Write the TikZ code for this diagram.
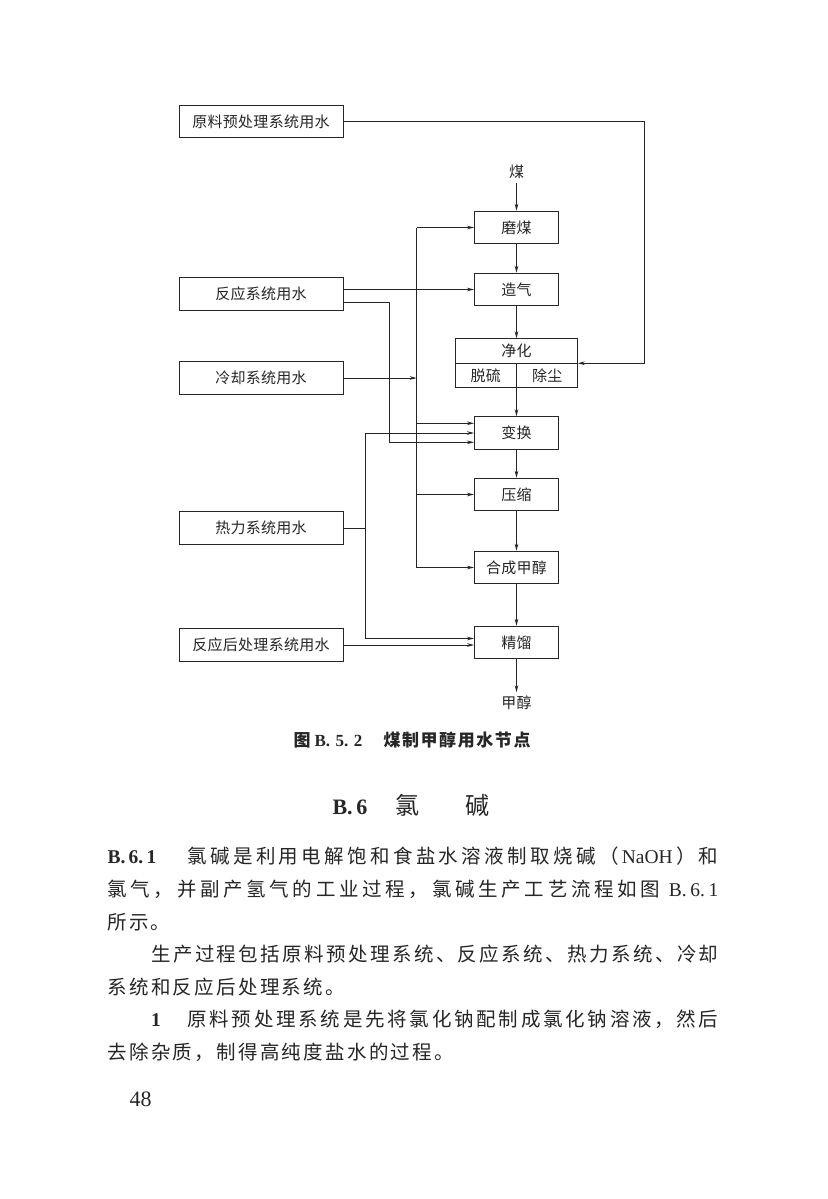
\documentclass[tikz,border=0pt]{standalone}
\usepackage{fontspec}
\setmainfont{Liberation Serif}
\newfontfamily\cjk{Noto Sans CJK SC}
\newfontfamily\cjklabel[LetterSpace=2]{Noto Sans CJK SC}
\newfontfamily\lat{Liberation Serif}
\usetikzlibrary{
  arrows.meta,
  calc,
  positioning
}
% Spread the tokens of a line evenly over a given width.
\let\SpreadEnd\relax
\def\SpreadStop{\SpreadEnd}
\def\SpreadTok#1{\def\SpreadArg{#1}%
  \ifx\SpreadArg\SpreadStop\unskip\else\hbox{#1}\hfil\expandafter\SpreadTok\fi}
\newcommand*{\SpreadLine}[2]{\hbox to #1{\SpreadTok#2\SpreadEnd}}
\tikzset{
  % For the water-use boxes on the left.
  water/.style={
    draw,
    minimum width=164pt,
    minimum height=32.5pt,
    inner sep=0pt,
    font=\cjklabel\fontsize{15}{17}\selectfont},
%
  % For the process units.
  unit/.style={
    draw,
    minimum width=84pt,
    minimum height=32.5pt,
    inner sep=0pt,
    font=\cjklabel\fontsize{15}{17}\selectfont},
%
  % For texts inside a split unit.
  cell/.style={
    inner sep=0pt,
    font=\cjklabel\fontsize{15}{17}\selectfont},
%
  % For the input and output streams.
  stream/.style={
    inner sep=3.5pt,
    font=\cjklabel\fontsize{15}{17}\selectfont},
%
  % For connectors with one arrow.
  flow/.style={
    -{Stealth[length=7pt,width=3.6pt]}},
%
  % For the page text.
  body/.style={
    anchor=base west,
    inner sep=0pt,
    font=\cjk\fontsize{19.5}{20}\selectfont},
  caption/.style={
    anchor=base west,
    inner sep=0pt,
    font=\cjk\bfseries\fontsize{17}{18}\selectfont}
}

\begin{document}
\begin{tikzpicture}[x=1pt, y=-1pt, line width=1pt, black!85]
  \fill[white] (0,0) rectangle (827,1199);
  \useasboundingbox (0,0) rectangle (827,1199);

  % Water-use systems.
  \node[water] (rawwater) at (261,121.5) {原料预处理系统用水};
  \node[water] (reactwater) at (261,294) {反应系统用水};
  \node[water] (coolwater) at (261,378) {冷却系统用水};
  \node[water] (heatwater) at (261,528) {热力系统用水};
  \node[water] (postwater) at (261,645) {反应后处理系统用水};

  % Process chain.
  \node[unit] (grind) at (516.5,227.5) {磨煤};
  \node[stream, above=28pt of grind] (coal) {煤};
  \node[unit, below=28.5pt of grind] (gasify) {造气};
  \node[unit, minimum width=121.6pt, minimum height=49pt,
        below=32pt of gasify] (purify) {};
  \node[unit, below=28pt of purify] (shift) {变换};
  \node[unit, below=28pt of shift] (compress) {压缩};
  \node[unit, below=39.5pt of compress] (synth) {合成甲醇};
  \node[unit, below=41.5pt of synth] (refine) {精馏};
  \node[stream, below=33pt of refine] (methanol) {甲醇};

  % Split unit.
  \draw (purify.west) -- (purify.east);
  \draw (purify.center) -- (purify.south);
  \node[cell] (purify title) at ($(purify.north)!0.5!(purify.center)$) {净化};
  \node[cell] (desulf) at ($(purify.south west)!0.5!(purify.center)$) {脱硫};
  \node[cell] (dedust) at ($(purify.south east)!0.5!(purify.center)$) {除尘};

  % Bends and feeding points.
  \coordinate (raw bend) at (644,121.5);
  \coordinate (react bend) at (389.7,302);
  \coordinate (cool top) at (416.7,227.5);
  \coordinate (heat joint) at (365.3,528);
  \coordinate (shift in1) at ([yshift=9.7pt]shift.west);
  \coordinate (shift in3) at ([yshift=-9.3pt]shift.west);
  \coordinate (refine in1) at ([yshift=4pt]refine.west);

  \draw[flow] (coal) -- (grind);
  \foreach \a/\b in {grind/gasify, gasify/purify, purify/shift,
                     shift/compress, compress/synth, synth/refine,
                     refine/methanol}
    \draw[flow] (\a) -- (\b);

  \draw[flow] (rawwater) -- (raw bend) |- (purify);
  \draw[flow] (reactwater.east |- gasify) -- (gasify);
  \draw[flow] (reactwater.east |- react bend) -- (react bend) |- (shift in3);

  % Cooling water bus.
  \draw[flow] (coolwater) -- (coolwater -| cool top);
  \draw (cool top) -- (cool top |- synth);
  \draw[flow] (cool top) -- (grind);
  \draw[flow] (cool top |- shift in1) -- (shift in1);
  \draw[flow] (cool top |- compress) -- (compress);
  \draw[flow] (cool top |- synth) -- (synth);

  % Heat water bus.
  \draw (heatwater) -- (heat joint);
  \draw[flow] (heat joint) |- (shift);
  \draw[flow] (heat joint) |- (refine in1);
  \draw[flow] (postwater) -- (postwater -| refine.west);

  % Caption and heading.
  \node[caption] (figno) at (293,746.5) {图};
  \node[caption] (fignum) at (314,746.5) {\lat\bfseries\SpreadLine{48pt}{{B.}{5.}{2}}};
  \node[caption] (figtitle) at (383,746.5) {\SpreadLine{147pt}{煤制甲醇用水节点}};
  \node[anchor=base west, inner sep=0pt, font=\lat\bfseries\fontsize{22}{24}\selectfont]
    (secno) at (332,814) {B.\,6};
  \node[anchor=base, inner sep=0pt, font=\cjk\fontsize{24}{26}\selectfont]
    (sectitle1) at (407.5,814) {氯};
  \node[anchor=base, inner sep=0pt, font=\cjk\fontsize{24}{26}\selectfont]
    (sectitle2) at (477.5,814) {碱};

  % Body text.
  \node[body] (p1no) at (107,863.9) {\lat\bfseries B.\,6.\,1};
  \node[body] (line1) at (187,863.9)
    {\SpreadLine{531pt}{氯碱是利用电解饱和食盐水溶液制取烧碱（{\lat NaOH}）和}};
  \node[body] (line2) at (107,896.5)
    {\SpreadLine{611pt}{氯气，并副产氢气的工业过程，氯碱生产工艺流程如图{\lat\ B.}{\lat 6.}{\lat 1}}};
  \node[body] (line3) at (107,929.1) {\SpreadLine{63pt}{所示。}};
  \node[body] (line4) at (150.7,961.7)
    {\SpreadLine{567.3pt}{生产过程包括原料预处理系统、反应系统、热力系统、冷却}};
  \node[body] (line5) at (107,994.3) {\SpreadLine{237.5pt}{系统和反应后处理系统。}};
  \node[body] (p2no) at (150.7,1026.9) {\lat\bfseries 1};
  \node[body] (line6) at (187,1026.9)
    {\SpreadLine{531pt}{原料预处理系统是先将氯化钠配制成氯化钠溶液，然后}};
  \node[body] (line7) at (107,1059.5) {\SpreadLine{346.5pt}{去除杂质，制得高纯度盐水的过程。}};

  \node[anchor=base west, inner sep=0pt, font=\lat\fontsize{22}{24}\selectfont]
    (pageno) at (129,1106.5) {48};
\end{tikzpicture}
\end{document}
